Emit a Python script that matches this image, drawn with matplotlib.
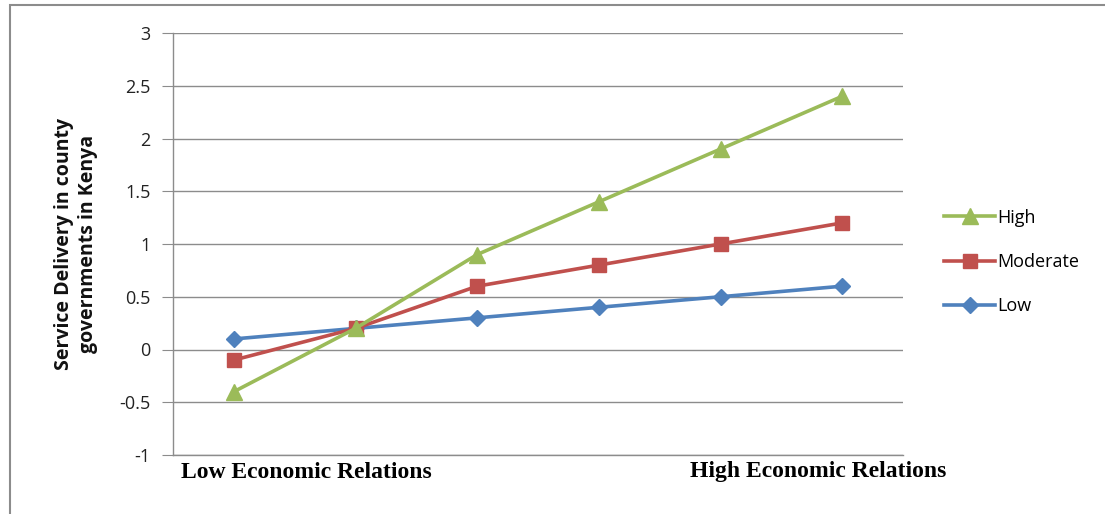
import matplotlib.pyplot as plt
from matplotlib.patches import Rectangle

# データ
categories = [1, 2, 3, 4, 5, 6]
high = [-0.4, 0.2, 0.9, 1.4, 1.9, 2.4]
moderate = [-0.1, 0.2, 0.6, 0.8, 1.0, 1.2]
low = [0.1, 0.2, 0.3, 0.4, 0.5, 0.6]
y_ticks = [-1, -0.5, 0, 0.5, 1, 1.5, 2, 2.5, 3]
y_tick_labels = ['-1', '-0.5', '0', '0.5', '1', '1.5', '2', '2.5', '3']
x_label_low = 'Low Economic Relations'
x_label_high = 'High Economic Relations'
y_title = 'Service Delivery in county\ngovernments in Kenya'

W, H = 1105, 514
fig = plt.figure(figsize=(W / 100, H / 100), dpi=100)

# 外枠
fig.patches.append(Rectangle((10 / W, -0.05), 1.2, 1 - 5 / H + 0.05, transform=fig.transFigure,
                             fill=False, edgecolor='#8c8c8c', linewidth=1.5))

ax = fig.add_axes([173 / W, 1 - 455 / H, 730 / W, 422 / H])

x = list(range(len(categories)))
ax.plot(x, low, color='#4F81BD', linewidth=2.6, marker='D', markersize=8, label='Low', zorder=3)
ax.plot(x, moderate, color='#C0504D', linewidth=2.6, marker='s', markersize=10, label='Moderate', zorder=4)
ax.plot(x, high, color='#9BBB59', linewidth=2.6, marker='^', markersize=11, label='High', zorder=5)

ax.set_xlim(-0.5, len(categories) - 0.5)
ax.set_ylim(-1, 3)
ax.set_yticks(y_ticks)
ax.set_yticklabels(y_tick_labels, fontsize=13, family='Open Sans', color='#222222')
ax.set_xticks([])
ax.tick_params(axis='y', length=8, color='#8c8c8c', pad=8)
ax.grid(axis='y', color='#8c8c8c', linewidth=1)
ax.set_axisbelow(True)
for s in ['top', 'right']:
    ax.spines[s].set_visible(False)
for s in ['left', 'bottom']:
    ax.spines[s].set_color('#8c8c8c')
    ax.spines[s].set_linewidth(1)

ax.set_ylabel(y_title, fontsize=14, family='Open Sans', fontweight='bold', color='#111111',
              linespacing=1.25)
ax.yaxis.set_label_coords((98 - 173) / 730, 0.5)

fig.text(181 / W, 1 - 472 / H, x_label_low, ha='left', va='center', fontsize=17,
         family='Liberation Serif', fontweight='bold')
fig.text(690 / W, 1 - 472 / H, x_label_high, ha='left', va='center', fontsize=17,
         family='Liberation Serif', fontweight='bold')

handles, labels = ax.get_legend_handles_labels()
leg = fig.legend(handles[::-1], labels[::-1], loc='center left', bbox_to_anchor=(928 / W, 1 - 262 / H),
                 frameon=False, prop={'family': 'Open Sans', 'size': 13}, handlelength=2.8,
                 handletextpad=0.15, labelspacing=1.45)

fig.savefig('out.png', dpi=100)
